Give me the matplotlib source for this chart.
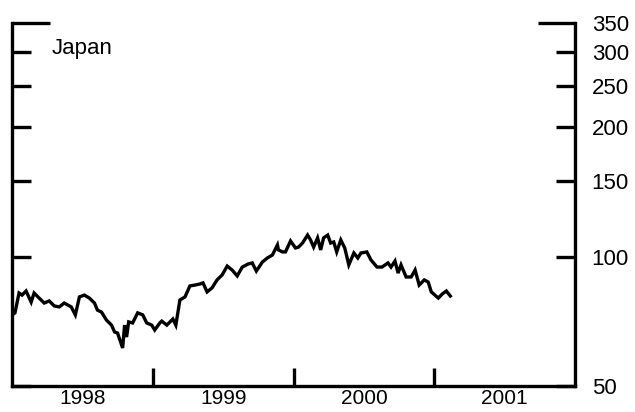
import matplotlib
matplotlib.use("Agg")
import matplotlib.pyplot as plt
from matplotlib.ticker import FixedLocator, NullFormatter, FixedFormatter

plt.rcParams["font.family"] = ["Liberation Sans", "DejaVu Sans"]

# weekly index, decimal years
dates = [
    1998.000, 1998.021, 1998.050, 1998.071, 1998.100, 1998.136, 1998.157, 1998.193,
    1998.229, 1998.264, 1998.300, 1998.336, 1998.371, 1998.421, 1998.450, 1998.479,
    1998.514, 1998.550, 1998.586, 1998.607, 1998.636, 1998.671, 1998.707, 1998.729,
    1998.750, 1998.786, 1998.800, 1998.814, 1998.829, 1998.857, 1998.893, 1998.929,
    1998.957, 1998.993, 1999.014, 1999.050, 1999.064, 1999.100, 1999.143, 1999.164,
    1999.193, 1999.229, 1999.264, 1999.300, 1999.336, 1999.357, 1999.386, 1999.421,
    1999.457, 1999.493, 1999.529, 1999.564, 1999.600, 1999.636, 1999.679, 1999.707,
    1999.736, 1999.779, 1999.814, 1999.850, 1999.886, 1999.893, 1999.921, 1999.943,
    1999.979, 2000.014, 2000.036, 2000.064, 2000.100, 2000.121, 2000.143, 2000.171,
    2000.193, 2000.214, 2000.243, 2000.264, 2000.286, 2000.307, 2000.336, 2000.364,
    2000.393, 2000.429, 2000.457, 2000.479, 2000.521, 2000.550, 2000.593, 2000.629,
    2000.671, 2000.693, 2000.721, 2000.743, 2000.764, 2000.800, 2000.836, 2000.864,
    2000.893, 2000.929, 2000.957, 2000.979, 2001.029, 2001.057, 2001.086, 2001.114,
]
japan = [
    73.2, 74.0, 82.3, 81.4, 83.2, 78.4, 82.3, 80.1,
    78.0, 78.9, 76.8, 76.4, 78.0, 76.4, 73.2, 80.6,
    81.4, 80.1, 78.0, 75.1, 74.3, 71.2, 69.3, 66.8,
    66.4, 61.3, 69.3, 65.0, 70.5, 70.1, 74.0, 73.2,
    70.1, 69.3, 67.5, 70.1, 70.8, 69.3, 71.6, 69.3,
    79.3, 80.6, 85.5, 85.9, 86.4, 86.9, 82.8, 84.6,
    88.3, 90.7, 95.1, 93.1, 90.2, 94.6, 96.2, 96.7,
    92.6, 97.2, 99.3, 100.9, 106.5, 103.7, 102.6, 102.6,
    108.8, 104.8, 105.3, 107.6, 112.3, 109.4, 105.3, 110.6,
    103.7, 110.6, 112.3, 107.6, 108.2, 102.6, 109.4, 104.8,
    95.7, 102.0, 99.3, 102.0, 102.6, 98.3, 94.6, 94.6,
    96.7, 94.6, 97.7, 91.6, 95.7, 89.7, 89.7, 93.1,
    85.9, 88.3, 87.3, 82.8, 80.1, 81.9, 83.2, 81.0,
]

y_ticks = [50, 100, 150, 200, 250, 300]
y_top = 350
year_ticks = [1999, 2000, 2001]
year_labels = ["1998", "1999", "2000", "2001"]
year_mids = [1998.5, 1999.5, 2000.5, 2001.5]

fig = plt.figure(figsize=(6.35, 4.12), dpi=100)
ax = fig.add_axes([12 / 635, 1 - 386 / 412, 563 / 635, 363 / 412])

ax.plot(dates, japan, color="black", lw=2.4, solid_joinstyle="miter")

ax.set_yscale("log")
ax.set_ylim(50, 350)
ax.set_xlim(1998, 2002)

for side in ["left", "right", "bottom"]:
    ax.spines[side].set_linewidth(2.4)
ax.spines["top"].set_visible(False)

# y axis: short ticks on both sides, long tick at the top, labels on the right
ax.yaxis.set_major_locator(FixedLocator(y_ticks))
ax.yaxis.set_major_formatter(FixedFormatter([str(v) for v in y_ticks]))
ax.yaxis.set_minor_locator(FixedLocator([y_top]))
ax.yaxis.set_minor_formatter(FixedFormatter([str(y_top)]))
ax.tick_params(axis="y", which="major", direction="in", length=14, width=2.4,
               left=True, right=True, labelleft=False, labelright=True,
               labelsize=16, pad=12)
ax.tick_params(axis="y", which="minor", direction="in", length=27, width=2.4,
               left=True, right=True, labelleft=False, labelright=True,
               labelsize=16, pad=12)

# x axis: ticks at year boundaries, year labels centred in between
ax.xaxis.set_major_locator(FixedLocator(year_ticks))
ax.xaxis.set_major_formatter(NullFormatter())
ax.xaxis.set_minor_locator(FixedLocator(year_mids))
ax.xaxis.set_minor_formatter(FixedFormatter(year_labels))
ax.tick_params(axis="x", which="major", direction="in", length=13, width=2.4)
ax.tick_params(axis="x", which="minor", length=0, labelsize=15, pad=2)

ax.text(0.07, 0.96, "Japan", transform=ax.transAxes, fontsize=16,
        ha="left", va="top")

fig.savefig("out.png", dpi=100)
